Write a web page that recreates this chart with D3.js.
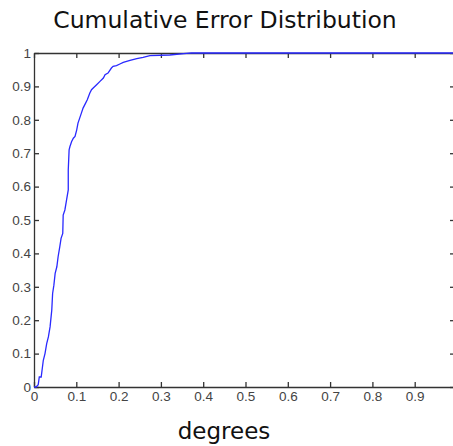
<!DOCTYPE html>
<html lang="en">
<head>
<meta charset="utf-8">
<script src="https://cdn.jsdelivr.net/npm/d3@7/dist/d3.min.js"></script>
<style type="text/css">
body {
	margin: 0;
	background: #fff;
}
.tick text {
	font-family: "Liberation Sans", Arial, sans-serif;
	font-size: 13.5px;
	fill: #444;
}
.title, .xlabel {
	font-family: "DejaVu Sans", Verdana, sans-serif;
	fill: #111;
}
</style>
</head>
<body>
<script type="text/javascript">

// error (degrees) and cumulative fraction
var errDeg = [0, 0.005, 0.01, 0.0125, 0.017, 0.022, 0.026, 0.03, 0.034, 0.038, 0.042, 0.044,
	0.047, 0.05, 0.054, 0.057, 0.061, 0.064, 0.068, 0.069, 0.073, 0.077, 0.081, 0.081,
	0.083, 0.085, 0.089, 0.093, 0.097, 0.101, 0.104, 0.108, 0.112, 0.116, 0.122, 0.126,
	0.132, 0.136, 0.14, 0.148, 0.156, 0.164, 0.168, 0.175, 0.183, 0.187, 0.195, 0.203,
	0.211, 0.227, 0.243, 0.258, 0.274, 0.321, 0.36, 0.372, 1];
var cumFrac = [0, 0, 0.007, 0.03, 0.03, 0.08, 0.10, 0.13, 0.15, 0.18, 0.23, 0.28,
	0.305, 0.34, 0.36, 0.39, 0.42, 0.445, 0.46, 0.515, 0.53, 0.56, 0.59, 0.65,
	0.71, 0.72, 0.735, 0.745, 0.75, 0.77, 0.79, 0.805, 0.82, 0.835, 0.85, 0.86,
	0.88, 0.89, 0.895, 0.905, 0.915, 0.925, 0.935, 0.94, 0.955, 0.96, 0.962, 0.967,
	0.972, 0.978, 0.983, 0.987, 0.992, 0.994, 0.999, 1, 1];

var xTicks = [0, 0.1, 0.2, 0.3, 0.4, 0.5, 0.6, 0.7, 0.8, 0.9, 1];
var xTickLabels = ["0", "0.1", "0.2", "0.3", "0.4", "0.5", "0.6", "0.7", "0.8", "0.9", ""];
var yTicks = [0, 0.1, 0.2, 0.3, 0.4, 0.5, 0.6, 0.7, 0.8, 0.9, 1];
var yTickLabels = ["0", "0.1", "0.2", "0.3", "0.4", "0.5", "0.6", "0.7", "0.8", "0.9", "1"];

var width = 453, height = 446;
// plot box (right edge falls just outside the window, as in the original)
var mLeft = 34, mRight = 457, mTop = 53, mBottom = 387;

var svg = d3.select("body").append("svg")
	.attr("width", width)
	.attr("height", height);

var x = d3.scaleLinear().domain([0, 1]).range([mLeft, mRight]);
var y = d3.scaleLinear().domain([0, 1]).range([mBottom, mTop]);

// box + ticks (matlab style, ticks inside)
var gx = svg.append("g")
	.attr("transform", "translate(0," + mBottom + ")")
	.call(d3.axisBottom(x).tickValues(xTicks).tickSizeInner(-5).tickSizeOuter(0).tickPadding(4)
		.tickFormat(function(d, i) { return xTickLabels[i]; }));
var gxTop = svg.append("g")
	.attr("transform", "translate(0," + mTop + ")")
	.call(d3.axisTop(x).tickValues(xTicks).tickSizeInner(-5).tickSizeOuter(0).tickFormat(""));
var gy = svg.append("g")
	.attr("transform", "translate(" + mLeft + ",0)")
	.call(d3.axisLeft(y).tickValues(yTicks).tickSizeInner(-5).tickSizeOuter(0).tickPadding(3)
		.tickFormat(function(d, i) { return yTickLabels[i]; }));
var gyRight = svg.append("g")
	.attr("transform", "translate(" + (mRight - 2) + ",0)")
	.call(d3.axisRight(y).tickValues(yTicks).tickSizeInner(-5).tickSizeOuter(0).tickFormat(""));

svg.selectAll(".domain").attr("stroke", "#333").attr("stroke-width", 1.3);
svg.selectAll(".tick line").attr("stroke", "#333").attr("stroke-width", 1.3);
gx.selectAll(".tick text").attr("dy", "0.71em");

// the curve
var line = d3.line()
	.x(function(d, i) { return x(errDeg[i]); })
	.y(function(d, i) { return y(cumFrac[i]); });

svg.append("path")
	.datum(errDeg)
	.attr("d", line)
	.attr("fill", "none")
	.attr("stroke", "#2a2aff")
	.attr("stroke-width", 1.3);

svg.append("text")
	.attr("class", "title")
	.attr("x", 225)
	.attr("y", 28)
	.attr("text-anchor", "middle")
	.style("font-size", "23.5px")
	.text("Cumulative Error Distribution");

svg.append("text")
	.attr("class", "xlabel")
	.attr("x", 224)
	.attr("y", 439)
	.attr("text-anchor", "middle")
	.style("font-size", "23px")
	.text("degrees");

</script>
</body>
</html>
